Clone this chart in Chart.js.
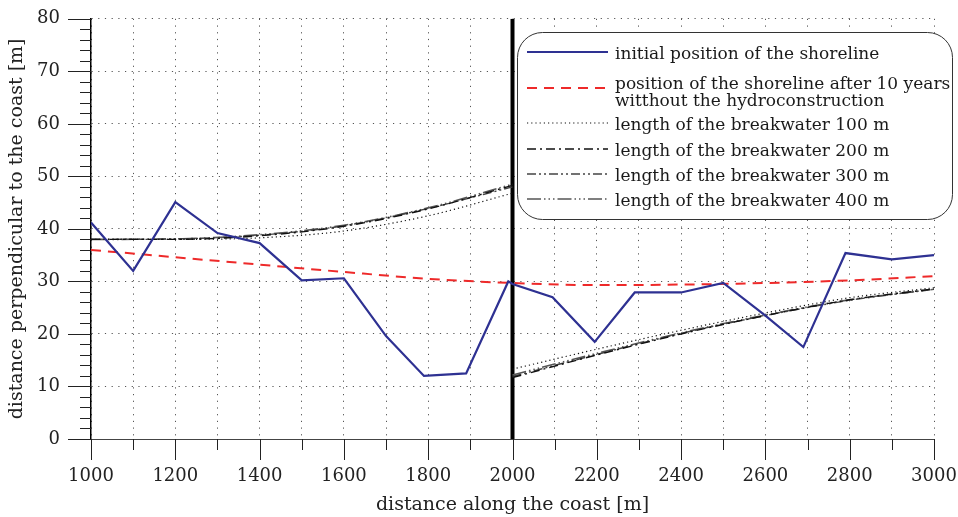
<!DOCTYPE html>
<html>
<head>
<meta charset="utf-8">
<script src="https://cdn.jsdelivr.net/npm/chart.js@4/dist/chart.umd.min.js"></script>
<style>
  html, body { margin: 0; padding: 0; background: #fff; }
  #wrap { width: 958px; height: 517px; }
</style>
</head>
<body>
<div id="wrap"><canvas id="myChart"></canvas></div>
<script>
// initial shoreline, measured points
const shoreX = [1000, 1100, 1200, 1300, 1400, 1500, 1600, 1700, 1790, 1890, 1990, 2000, 2095, 2195, 2290, 2400, 2500, 2600, 2690, 2790, 2900, 3000];
const shoreY = [41.2, 32.0, 45.1, 39.2, 37.3, 30.2, 30.6, 19.6, 12.0, 12.5, 30.0, 29.5, 27.0, 18.5, 27.9, 27.9, 29.7, 23.5, 17.5, 35.4, 34.2, 35.0];

// shoreline after 10 years without hydroconstruction
const noBuildX = [1000, 1200, 1400, 1600, 1800, 2000, 2200, 2400, 2600, 2800, 3000];
const noBuildY = [36.0, 34.6, 33.2, 31.8, 30.5, 29.7, 29.3, 29.4, 29.7, 30.2, 31.0];

// breakwater cases, left and right of the construction at 2000 m
const leftX = [1000, 1200, 1400, 1600, 1800, 2000];
const rightX = [2000, 2200, 2400, 2600, 2800, 3000];
const bw100L = [38.0, 38.0, 38.3, 39.6, 42.5, 46.8];
const bw100R = [13.3, 17.1, 20.7, 24.0, 26.9, 28.8];
const bw200L = [38.0, 38.0, 38.7, 40.5, 43.8, 48.3];
const bw200R = [11.7, 16.0, 20.0, 23.5, 26.5, 28.6];
const bw300L = [38.0, 38.1, 38.8, 40.6, 43.9, 48.0];
const bw300R = [11.9, 16.1, 20.1, 23.5, 26.4, 28.5];
const bw400L = [38.0, 38.1, 38.9, 40.7, 44.0, 48.5];
const bw400R = [12.2, 16.3, 20.2, 23.6, 26.5, 28.5];

const constructionX = 2000;

const serif = "'DejaVu Serif', serif";

function pts(xs, ys) {
  return xs.map((x, i) => ({ x: x, y: ys[i] }));
}
function split(l, r) {
  return pts(leftX, l).concat([{ x: constructionX, y: null }], pts(rightX, r));
}

// minor tick marks and the rounded legend box
const extras = {
  id: "extras",
  afterDraw(chart) {
    const c = chart.ctx;
    const xs = chart.scales.x;
    const ys = chart.scales.y;
    const a = chart.chartArea;
    c.save();
    c.strokeStyle = "#222";
    c.lineWidth = 1;
    for (let v = 1000; v <= 3000; v += 100) {
      const px = Math.round(xs.getPixelForValue(v)) + 0.5;
      c.beginPath();
      c.moveTo(px, a.bottom);
      c.lineTo(px, a.bottom + (v % 200 === 0 ? 21 : 11));
      c.stroke();
    }
    for (let v = 0; v <= 80; v += 2) {
      const py = Math.round(ys.getPixelForValue(v)) + 0.5;
      c.beginPath();
      c.moveTo(a.left, py);
      c.lineTo(a.left - (v % 10 === 0 ? 23 : 11), py);
      c.stroke();
    }

    // legend
    const bx = 517, by = 32, bw = 435, bh = 187, r = 25;
    c.fillStyle = "#fff";
    c.strokeStyle = "#333";
    c.lineWidth = 1;
    c.beginPath();
    c.roundRect(bx + 0.5, by + 0.5, bw, bh, r);
    c.fill();
    c.stroke();

    const rows = [52, 88, 123, 149, 174, 199];
    c.font = "17px " + serif;
    c.textBaseline = "middle";
    c.fillStyle = "#1a1a1a";
    let k = 0;
    chart.data.datasets.forEach((ds) => {
      if (ds.noLegend) return;
      const y = rows[k++];
      c.save();
      c.strokeStyle = ds.borderColor;
      c.lineWidth = ds.borderWidth;
      c.setLineDash(ds.borderDash || []);
      c.beginPath();
      c.moveTo(527, y);
      c.lineTo(608, y);
      c.stroke();
      c.restore();
      const lines = Array.isArray(ds.label) ? ds.label : [ds.label];
      lines.forEach((t, j) => {
        c.fillText(t, 615, y + 3 - (lines.length - 1) * 6 + j * 17);
      });
    });
    c.restore();
  },
};

const ctx = document.getElementById("myChart");

new Chart(ctx, {
  type: "line",
  data: {
    datasets: [
      {
        label: "initial position of the shoreline",
        data: pts(shoreX, shoreY),
        borderColor: "#2e3192",
        borderWidth: 2.2,
      },
      {
        label: ["position of the shoreline after 10 years", "witthout the hydroconstruction"],
        data: pts(noBuildX, noBuildY),
        borderColor: "#ee2a2a",
        borderWidth: 2,
        borderDash: [10, 7],
        cubicInterpolationMode: "monotone",
      },
      {
        label: "length of the breakwater 100 m",
        data: split(bw100L, bw100R),
        borderColor: "#111",
        borderWidth: 1.2,
        borderDash: [1.2, 3],
        cubicInterpolationMode: "monotone",
      },
      {
        label: "length of the breakwater 200 m",
        data: split(bw200L, bw200R),
        borderColor: "#111",
        borderWidth: 1.4,
        borderDash: [9, 4, 2, 4],
        cubicInterpolationMode: "monotone",
      },
      {
        label: "length of the breakwater 300 m",
        data: split(bw300L, bw300R),
        borderColor: "#444",
        borderWidth: 1.4,
        borderDash: [9, 3, 2, 3, 2, 3],
        cubicInterpolationMode: "monotone",
      },
      {
        label: "length of the breakwater 400 m",
        data: split(bw400L, bw400R),
        borderColor: "#555",
        borderWidth: 1.6,
        borderDash: [14, 3, 1.5, 3, 1.5, 3, 1.5, 3],
        cubicInterpolationMode: "monotone",
      },
      {
        label: "construction",
        noLegend: true,
        data: [{ x: constructionX, y: 0 }, { x: constructionX, y: 80 }],
        borderColor: "#000",
        borderWidth: 4,
      },
    ],
  },
  options: {
    responsive: true,
    maintainAspectRatio: false,
    animation: false,
    spanGaps: false,
    elements: { point: { radius: 0 }, line: { tension: 0 } },
    layout: { padding: { top: 17, right: 24, left: 0, bottom: 0 } },
    plugins: {
      legend: { display: false },
      tooltip: { enabled: false },
    },
    scales: {
      x: {
        type: "linear",
        min: 1000,
        max: 3000,
        afterFit: (s) => {
          s.height = 78;
          s.paddingLeft = 0;
          s.paddingRight = 0;
        },
        ticks: {
          stepSize: 100,
          autoSkip: false,
          maxRotation: 0,
          padding: 6,
          color: "#222",
          font: { family: serif, size: 18 },
          callback: (v) => (v % 200 === 0 ? String(v) : ""),
        },
        grid: {
          color: "#555",
          tickColor: "rgba(0,0,0,0)",
          tickLength: 21,
        },
        border: { color: "#444", width: 1, dash: [1.2, 5.5] },
        title: {
          display: true,
          text: "distance along the coast [m]",
          color: "#222",
          font: { family: serif, size: 19 },
          padding: { top: 0, bottom: 1 },
        },
      },
      y: {
        min: 0,
        max: 80,
        afterFit: (s) => { s.width = 91; },
        ticks: {
          stepSize: 10,
          padding: 8,
          color: "#222",
          font: { family: serif, size: 18 },
        },
        grid: {
          color: "#555",
          tickColor: "rgba(0,0,0,0)",
          tickLength: 23,
        },
        border: { color: "#000", width: 1.5, dash: [1.2, 5.5] },
        title: {
          display: true,
          text: "distance perpendicular to the coast [m]",
          color: "#222",
          font: { family: serif, size: 19 },
          padding: { top: 6, bottom: 0 },
        },
      },
    },
  },
  plugins: [extras],
});
</script>
</body>
</html>
